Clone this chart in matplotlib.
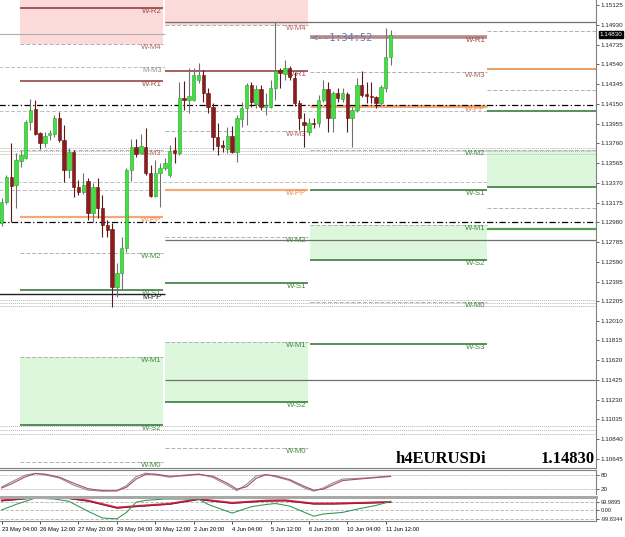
import matplotlib
matplotlib.use("Agg")
import matplotlib.pyplot as plt
import matplotlib.transforms as mtransforms

# 4h EURUSD candles, bar 0 = 23 May 04:00
opens = [1.12973, 1.13180, 1.13427, 1.13348, 1.13585, 1.13614, 1.13970, 1.14098, 1.13861, 1.13763,
         1.13842, 1.13851, 1.14009, 1.13792, 1.13496, 1.13674, 1.13328, 1.13279, 1.13387, 1.13072,
         1.13328, 1.13121, 1.12953, 1.12913, 1.12341, 1.12479, 1.12726, 1.13496, 1.13723, 1.13664,
         1.13723, 1.13466, 1.13239, 1.13466, 1.13516, 1.13447, 1.13693, 1.13664, 1.14207, 1.14187,
         1.14187, 1.14385, 1.14434, 1.14256, 1.14118, 1.13822, 1.13743, 1.13703, 1.13832, 1.13674,
         1.14000, 1.14108, 1.14335, 1.14148, 1.14296, 1.14118, 1.14118, 1.14306, 1.14483, 1.14444,
         1.14503, 1.14404, 1.14158, 1.13970, 1.13871, 1.13960, 1.13960, 1.14187, 1.14296, 1.14009,
         1.14256, 1.14197, 1.14246, 1.14009, 1.14088, 1.14335, 1.14246, 1.14227, 1.14217, 1.14158,
         1.14306, 1.14612]
highs = [1.13220, 1.13447, 1.13763, 1.13664, 1.13693, 1.13990, 1.14197, 1.14187, 1.13871, 1.13871,
         1.13891, 1.14039, 1.14069, 1.13940, 1.13713, 1.13693, 1.13397, 1.13466, 1.13417, 1.13368,
         1.13417, 1.13249, 1.13002, 1.12973, 1.12578, 1.12835, 1.13516, 1.13802, 1.13802, 1.13851,
         1.13911, 1.13545, 1.13595, 1.13565, 1.13614, 1.13743, 1.13822, 1.14365, 1.14375, 1.14503,
         1.14503, 1.14552, 1.14483, 1.14306, 1.14158, 1.13960, 1.13792, 1.13921, 1.13930, 1.14039,
         1.14167, 1.14355, 1.14365, 1.14335, 1.14335, 1.14256, 1.14385, 1.14957, 1.14503, 1.14582,
         1.14523, 1.14464, 1.14187, 1.14059, 1.14009, 1.14009, 1.14236, 1.14385, 1.14365, 1.14276,
         1.14306, 1.14306, 1.14266, 1.14118, 1.14404, 1.14473, 1.14365, 1.14365, 1.14227, 1.14335,
         1.14898, 1.14878]
lows = [1.12943, 1.13160, 1.12983, 1.13121, 1.13526, 1.13605, 1.13891, 1.13842, 1.13703, 1.13723,
        1.13792, 1.13822, 1.13772, 1.13378, 1.13417, 1.13229, 1.13249, 1.13259, 1.13002, 1.12983,
        1.13022, 1.12835, 1.12835, 1.12143, 1.12242, 1.12311, 1.12686, 1.13387, 1.13624, 1.13654,
        1.13447, 1.13229, 1.13229, 1.13131, 1.13496, 1.13427, 1.13565, 1.13644, 1.14088, 1.14059,
        1.14177, 1.14355, 1.14167, 1.14059, 1.13693, 1.13644, 1.13674, 1.13664, 1.13664, 1.13575,
        1.13921, 1.13940, 1.14118, 1.14108, 1.14088, 1.14039, 1.14108, 1.14187, 1.14306, 1.14385,
        1.14385, 1.14128, 1.13891, 1.13723, 1.13842, 1.13911, 1.13921, 1.14167, 1.13871, 1.13871,
        1.14167, 1.14167, 1.13871, 1.13723, 1.14069, 1.14217, 1.14158, 1.14158, 1.14108, 1.14138,
        1.14266, 1.14533]
closes = [1.13180, 1.13427, 1.13338, 1.13595, 1.13644, 1.13970, 1.14088, 1.13851, 1.13763, 1.13832,
          1.13861, 1.14009, 1.13792, 1.13496, 1.13674, 1.13328, 1.13279, 1.13348, 1.13072, 1.13328,
          1.13121, 1.12953, 1.12904, 1.12341, 1.12479, 1.12726, 1.13496, 1.13723, 1.13654, 1.13733,
          1.13466, 1.13239, 1.13466, 1.13516, 1.13565, 1.13684, 1.13664, 1.14207, 1.14187, 1.14227,
          1.14434, 1.14434, 1.14256, 1.14118, 1.13822, 1.13733, 1.13723, 1.13832, 1.13674, 1.14009,
          1.14108, 1.14335, 1.14167, 1.14296, 1.14118, 1.14138, 1.14306, 1.14473, 1.14454, 1.14503,
          1.14414, 1.14158, 1.14009, 1.13940, 1.13960, 1.13950, 1.14187, 1.14296, 1.14009, 1.14256,
          1.14207, 1.14256, 1.14009, 1.14088, 1.14335, 1.14236, 1.14227, 1.14217, 1.14158, 1.14315,
          1.14612, 1.14830]

date_bars = [0, 8, 16, 24, 32, 40, 48, 56, 64, 72, 80]
date_labels = ["23 May 04:00", "26 May 12:00", "27 May 20:00", "29 May 04:00", "30 May 12:00",
               "2 Jun 20:00", "4 Jun 04:00", "5 Jun 12:00", "6 Jun 20:00", "10 Jun 04:00", "11 Jun 12:00"]

price_ticks = [1.15125, 1.14930, 1.14735, 1.14540, 1.14345, 1.14150, 1.13955, 1.13760, 1.13565,
               1.13370, 1.13175, 1.12980, 1.12785, 1.12590, 1.12395, 1.12205, 1.12010, 1.11815,
               1.11620, 1.11425, 1.11230, 1.11035, 1.10840, 1.10645]
last_price = 1.14830

# weekly pivot blocks
prev_names = ["W-R2", "W-M4", "W-R1", "W-M3", "W-PP", "W-M2", "W-S1", "W-M1", "W-S2", "W-M0"]
prev_levels = [1.15095, 1.14740, 1.14375, 1.13693, 1.13032, 1.12677, 1.12311, 1.11650, 1.10978, 1.10613]
cur_names = ["W-M4", "W-R1", "W-M3", "W-PP", "W-M2", "W-S1", "W-M1", "W-S2", "W-M0"]
cur_levels = [1.14928, 1.14473, 1.13881, 1.13299, 1.12835, 1.12380, 1.11798, 1.11206, 1.10751]
new_names = ["W-R1", "W-M3", "W-PP", "W-M2", "W-S1", "W-M1", "W-S2", "W-M0", "W-S3"]
new_levels = [1.14809, 1.14463, 1.14128, 1.13693, 1.13299, 1.12953, 1.12607, 1.12193, 1.11778]
# right block (no labels)
far_kinds = ["M", "PP", "M", "S", "M", "S", "M", "S1"]
far_levels = [1.14868, 1.14493, 1.14286, 1.14078, 1.13693, 1.13328, 1.13121, 1.12913]

# monthly / wide lines
dashdot_levels = [1.14138, 1.12983]
dotted_levels = [1.13713, 1.13684, 1.13654, 1.12212, 1.12183, 1.12153, 1.10969, 1.10929, 1.10890]
mm3_level = 1.14513
mpp_level = 1.12272
grey_solid_left = 1.14839
grey_solid_right = [1.14957, 1.12805, 1.11423]
grey_dash_wide = [1.14078, 1.13378]

# oscillators
osc_bars = [0, 2, 5, 7, 9, 12, 15, 18, 21, 24, 26, 28, 30, 32, 35, 38, 41, 44, 47, 49, 51, 53,
            55, 57, 60, 63, 65, 67, 69, 71, 76, 81]
stoch_main = [29, 50, 79, 86, 80, 67, 37, 16, 12, 14, 35, 72, 87, 80, 70, 79, 83, 69, 37, 14, 40,
              75, 81, 72, 56, 26, 12, 25, 46, 62, 67, 75]
stoch_sig = [25, 42, 72, 85, 83, 70, 45, 22, 14, 13, 28, 62, 82, 83, 74, 76, 82, 74, 45, 20, 30,
             65, 80, 76, 60, 32, 16, 20, 38, 56, 65, 73]
cci_bars = [0, 3, 7, 11, 14, 18, 21, 24, 26, 28, 30, 34, 38, 41, 43, 48, 52, 55, 57, 60, 65, 67,
            71, 74, 78, 81]
cci_fast = [7, 72, 148, 136, 109, -10, -90, -99, -23, 98, 120, 136, 136, 136, 72, -31, 45, 70, 83,
            52, -68, -42, -23, 15, 60, 109]
cci_slow_bars = [0, 7, 14, 18, 24, 28, 35, 41, 48, 55, 59, 65, 69, 75, 81]
cci_slow = [120, 155, 148, 117, 34, 52, 80, 136, 91, 117, 121, 83, 83, 91, 102]

W, H = 625, 537
fig = plt.figure(figsize=(W / 100, H / 100), dpi=100)
fig.patch.set_facecolor("white")
small = ["Liberation Sans", "DejaVu Sans"]

ax = fig.add_axes([0, 1 - 468 / H, 596 / W, 468 / H])
ax1 = fig.add_axes([0, 1 - 494 / H, 596 / W, 24 / H])
ax2 = fig.add_axes([0, 1 - 521 / H, 596 / W, 24 / H])
XL = (-0.35, 123.8)
for a in (ax, ax1, ax2):
    a.set_xlim(*XL)
    for s in ("left", "top"):
        a.spines[s].set_visible(False)
    a.spines["right"].set_color("#808080")
    a.spines["bottom"].set_color("#808080")
    a.yaxis.tick_right()
    a.tick_params(axis="y", length=2, width=0.5, pad=1.2, labelsize=4.5, colors="#222222")
    a.tick_params(axis="x", bottom=False, labelbottom=False)
ax.set_ylim(1.10554, 1.151744)

A = (3.8, 33.6)
B = (34.0, 63.8)
C = (64.2, 101.1)
D = (101.1, 124.5)
FULL = (-1, 124.5)
top = 1.153

# fills
ax.fill_between(A, prev_levels[1], top, color="#fcdada", lw=0, zorder=0)
ax.fill_between(B, cur_levels[0], top, color="#fcdada", lw=0, zorder=0)
ax.fill_between(A, prev_levels[8], prev_levels[7], color="#ddf7dd", lw=0, zorder=0)
ax.fill_between(B, cur_levels[7], cur_levels[6], color="#ddf7dd", lw=0, zorder=0)
ax.fill_between(C, new_levels[6], new_levels[5], color="#ddf7dd", lw=0, zorder=0)
ax.fill_between(D, far_levels[5], far_levels[4], color="#ddf7dd", lw=0, zorder=0)

dot = (0, (1, 1))
dash = (0, (4, 2))
ddot = (0, (5, 2, 1, 2))

# wide reference lines
for y in dotted_levels:
    ax.hlines(y, *FULL, colors="#b5b5b5", linestyles=dot, lw=0.7, zorder=1)
for y in grey_dash_wide:
    ax.hlines(y, FULL[0], C[1], colors="#bdbdbd", linestyles=dash, lw=0.7, zorder=1)
ax.hlines(1.13299, FULL[0], A[1], colors="#bdbdbd", linestyles=dash, lw=0.7, zorder=1)
ax.hlines(grey_solid_left, FULL[0], B[0], colors="#b0b0b0", lw=0.8, zorder=1)
for y in grey_solid_right:
    ax.hlines(y, B[0], FULL[1], colors="#707070", lw=0.9, zorder=1)
ax.hlines(mm3_level, FULL[0], B[0], colors="#bdbdbd", linestyles=dash, lw=0.7, zorder=1)
ax.hlines(mpp_level, FULL[0], B[0], colors="#222222", lw=1.0, zorder=1)
for y in dashdot_levels:
    ax.hlines(y, *FULL, colors="black", linestyles=ddot, lw=0.9, zorder=3)

lbl_kw = dict(fontsize=5.6, ha="right", va="top", family=small, zorder=4)


def draw_block(names, levels, span, heavy=False):
    for nm, y in zip(names, levels):
        upper = nm in ("W-M4", "W-M3")
        if nm.startswith("W-R"):
            col, ls, lw, tc = ("#b58a8a", "-", 2.6, "#a04848") if heavy else ("#8b3535", "-", 1.1, "#a04848")
        elif nm == "W-PP":
            col, ls, lw, tc = "#f2a878", "-", (2.2 if heavy else 1.6), "#e8894a"
        elif nm.startswith("W-S"):
            col, ls, lw, tc = "#2f6f2f", "-", 1.1, "#3c8c3c"
        else:
            col, ls, lw, tc = "#b0b0b0", dash, 0.7, ("#b06060" if upper else "#3c8c3c")
        ax.hlines(y, *span, colors=col, linestyles=ls, lw=lw, zorder=2)
        ax.text(span[1] - 0.3, y - 0.00003, nm, color=tc, **lbl_kw)


draw_block(prev_names, prev_levels, A)
draw_block(cur_names, cur_levels, B)
draw_block(new_names, new_levels, C, heavy=True)
ax.text(A[1] - 0.3, mm3_level - 0.00003, "M-M3", color="#909090", **lbl_kw)
ax.text(A[1] - 0.3, mpp_level - 0.00003, "M-PP", color="#111111", **lbl_kw)

for kind, y in zip(far_kinds, far_levels):
    if kind == "M":
        ax.hlines(y, *D, colors="#b0b0b0", linestyles=dash, lw=0.7, zorder=2)
    elif kind == "PP":
        ax.hlines(y, *D, colors="#e8a060", lw=1.4, zorder=2)
    elif kind == "S":
        ax.hlines(y, *D, colors="#2f6f2f", lw=1.1, zorder=2)
    else:
        ax.hlines(y, *D, colors="#4f9f4f", lw=1.6, zorder=2)

# candles
idx = list(range(len(opens)))
for i, o, h, l, c in zip(idx, opens, highs, lows, closes):
    bull = c >= o
    ax.vlines(i, l, h, colors="#707070" if bull else "#5a1a1a", lw=0.8, zorder=5)
    ax.bar(i, max(abs(c - o), 0.00003), bottom=min(o, c), width=0.68,
           color="#3fe03f" if bull else "#8b1c1c",
           edgecolor="#2fa02f" if bull else "#6a1010", lw=0.4, zorder=6)

ax.text(64.6, 1.14795, "<--1:34:52", color="#6a78a8", fontsize=7.3, family="DejaVu Sans Mono",
        va="center", ha="left", zorder=7)

ax.set_yticks(price_ticks)
ax.set_yticklabels(["%.5f" % p for p in price_ticks], family=small)
tr = mtransforms.blended_transform_factory(ax.transAxes, ax.transData)
ax.text(1.006, last_price, "%.5f" % last_price, transform=tr, fontsize=4.5, family=small,
        color="white", va="center", ha="left",
        bbox=dict(boxstyle="square,pad=0.15", fc="black", ec="black"))

ax.text(0.74, 0.019, "h4EURUSDi", transform=ax.transAxes, fontsize=12, fontweight="bold",
        family="Liberation Serif", ha="center", va="center", zorder=8)
ax.text(0.998, 0.019, "%.5f" % last_price, transform=ax.transAxes, fontsize=12, fontweight="bold",
        family="Liberation Serif", ha="right", va="center", zorder=8)

# stochastic panel
ax1.set_ylim(0, 100)
for y in (80, 20):
    ax1.axhline(y, color="#a0a0a0", ls=dot, lw=0.6)
ax1.plot(osc_bars, stoch_main, color="#909090", lw=0.8)
ax1.plot(osc_bars, stoch_sig, color="#b04a6a", lw=0.8)
ax1.set_yticks([80, 20])
ax1.set_yticklabels(["80", "20"], family=small)
ax1.spines["top"].set_color("#808080")
ax1.spines["top"].set_visible(True)
ax1.spines["bottom"].set_visible(False)

# cci panel
ax2.set_ylim(-125, 160)
for y in (100, 0, -100):
    ax2.axhline(y, color="#b0b0b0", ls=dash, lw=0.6)
ax2.plot(cci_slow_bars, cci_slow, color="#e0203a", lw=1.4)
ax2.plot(cci_slow_bars, [v - 8 for v in cci_slow], color="#7a2040", lw=0.6)
ax2.plot(cci_bars, cci_fast, color="#3a9a5a", lw=0.8)
ax2.set_yticks([100, 0, -100])
ax2.set_yticklabels(["99.9895", "0.00", "-99.8344"], family=small)
ax2.tick_params(axis="y", labelsize=4.1)
ax2.spines["top"].set_visible(True)
ax2.spines["top"].set_color("#a8a8a8")
ax2.spines["top"].set_linewidth(2.2)
ax2.set_xticks(date_bars)
ax2.set_xticklabels(date_labels, family=small)
ax2.tick_params(axis="x", bottom=True, labelbottom=True, length=2, width=0.5, pad=2.5, labelsize=4.15)
for t in ax2.get_xticklabels():
    t.set_ha("left")

fig.savefig("out.png", dpi=100)
